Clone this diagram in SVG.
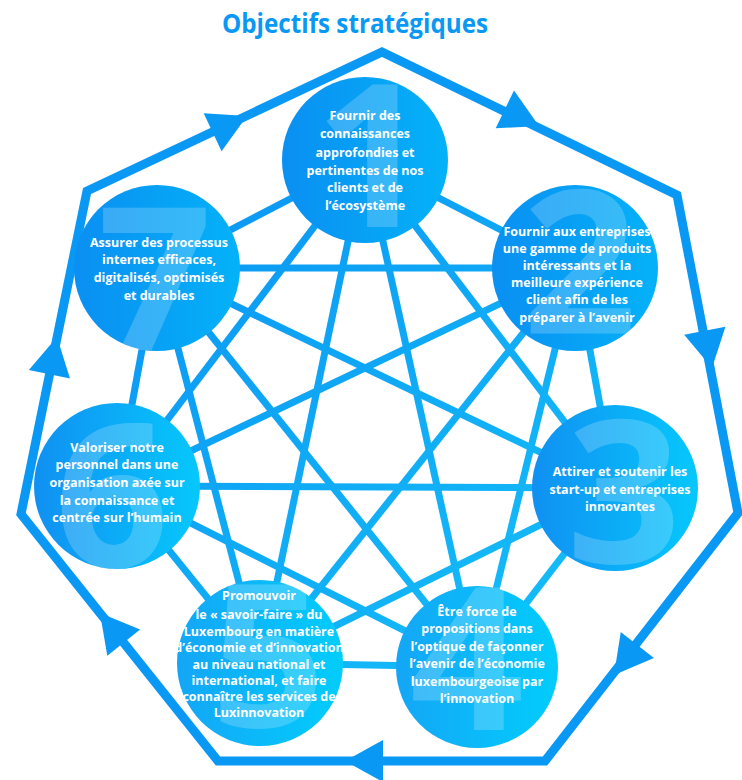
<svg xmlns="http://www.w3.org/2000/svg" width="742" height="780" viewBox="0 0 742 780">
<defs>
<linearGradient id="lineGrad" gradientUnits="userSpaceOnUse" x1="120" y1="160" x2="620" y2="700">
<stop offset="0" stop-color="#0a92f3"/><stop offset="1" stop-color="#16c3f8"/>
</linearGradient>
<linearGradient id="gTop" x1="0" y1="0" x2="1" y2="0">
<stop offset="0" stop-color="#0a8ff2"/><stop offset="1" stop-color="#04b2f8"/>
</linearGradient>
<linearGradient id="gMid" x1="0" y1="0" x2="1" y2="0">
<stop offset="0" stop-color="#1090f2"/><stop offset="1" stop-color="#06c8fc"/>
</linearGradient>
<linearGradient id="gLow" x1="0" y1="0" x2="1" y2="0">
<stop offset="0" stop-color="#14a6f6"/><stop offset="1" stop-color="#02cdfc"/>
</linearGradient>
<path id="arrow" d="M0,0 L-38,-21 L-38,21 Z"/>
</defs>
<style>
.title{font-family:"Open Sans","Liberation Sans",sans-serif;font-weight:700;font-size:26px;fill:#0a98f5;}
.link{stroke:url(#lineGrad);stroke-width:7;fill:none;}
.cycle{stroke:#0a98f5;stroke-width:9;fill:none;stroke-linejoin:miter;}
.ah{fill:#0a98f5;}
.num{font-family:"Open Sans","Liberation Sans",sans-serif;font-weight:700;font-size:200px;fill:#ffffff;fill-opacity:0.2;text-anchor:middle;}
.lbl{font-family:"Open Sans","Liberation Sans",sans-serif;font-weight:700;font-size:12.5px;fill:#ffffff;text-anchor:middle;}
</style>
<rect width="742" height="780" fill="#ffffff"/>
<text class="title" x="355" y="33" text-anchor="middle" textLength="266" lengthAdjust="spacingAndGlyphs">Objectifs stratégiques</text>
<g id="cycle">
<polygon class="cycle" points="382,52 677,195 738,513 545,761 218,761 21,514 87,191"/>
<use href="#arrow" class="ah" transform="translate(247,116) rotate(-25.2)"/>
<use href="#arrow" class="ah" transform="translate(539,126) rotate(25.9)"/>
<use href="#arrow" class="ah" transform="translate(712,368) rotate(79.1)"/>
<use href="#arrow" class="ah" transform="translate(614,675) rotate(127.9)"/>
<use href="#arrow" class="ah" transform="translate(345,761) rotate(180)"/>
<use href="#arrow" class="ah" transform="translate(100,613) rotate(231.4)"/>
<use href="#arrow" class="ah" transform="translate(57,337) rotate(-78.5)"/>
</g>
<g id="connectors">
<line class="link" x1="365" y1="160" x2="575" y2="268"/>
<line class="link" x1="365" y1="160" x2="615" y2="488"/>
<line class="link" x1="365" y1="160" x2="477" y2="667"/>
<line class="link" x1="365" y1="160" x2="260" y2="663"/>
<line class="link" x1="365" y1="160" x2="117" y2="486"/>
<line class="link" x1="365" y1="160" x2="157" y2="268"/>
<line class="link" x1="575" y1="268" x2="615" y2="488"/>
<line class="link" x1="575" y1="268" x2="477" y2="667"/>
<line class="link" x1="575" y1="268" x2="260" y2="663"/>
<line class="link" x1="575" y1="268" x2="117" y2="486"/>
<line class="link" x1="575" y1="268" x2="157" y2="268"/>
<line class="link" x1="615" y1="488" x2="477" y2="667"/>
<line class="link" x1="615" y1="488" x2="260" y2="663"/>
<line class="link" x1="615" y1="488" x2="117" y2="486"/>
<line class="link" x1="615" y1="488" x2="157" y2="268"/>
<line class="link" x1="477" y1="667" x2="260" y2="663"/>
<line class="link" x1="477" y1="667" x2="117" y2="486"/>
<line class="link" x1="477" y1="667" x2="157" y2="268"/>
<line class="link" x1="260" y1="663" x2="117" y2="486"/>
<line class="link" x1="260" y1="663" x2="157" y2="268"/>
<line class="link" x1="117" y1="486" x2="157" y2="268"/>
</g>
<g id="node1">
<circle cx="365" cy="160" r="83" fill="url(#gTop)"/>
<text class="num" x="372" y="227">1</text>
<text class="lbl" x="365" y="120">Fournir des</text>
<text class="lbl" x="365" y="138">connaissances</text>
<text class="lbl" x="365" y="157">approfondies et</text>
<text class="lbl" x="365" y="175">pertinentes de nos</text>
<text class="lbl" x="365" y="192">clients et de</text>
<text class="lbl" x="365" y="210">l’écosystème</text>
</g>
<g id="node2">
<circle cx="575" cy="268" r="83" fill="url(#gTop)"/>
<text class="num" x="580" y="333">2</text>
<text class="lbl" x="577" y="236">Fournir aux entreprises</text>
<text class="lbl" x="577" y="253">une gamme de produits</text>
<text class="lbl" x="577" y="270">intéressants et la</text>
<text class="lbl" x="577" y="287">meilleure expérience</text>
<text class="lbl" x="577" y="304">client afin de les</text>
<text class="lbl" x="577" y="322">préparer à l’avenir</text>
</g>
<g id="node3">
<circle cx="615" cy="488" r="83" fill="url(#gMid)"/>
<text class="num" x="624" y="563">3</text>
<text class="lbl" x="620" y="476">Attirer et soutenir les</text>
<text class="lbl" x="620" y="494">start-up et entreprises</text>
<text class="lbl" x="620" y="511">innovantes</text>
</g>
<g id="node4">
<circle cx="477" cy="667" r="81" fill="url(#gLow)"/>
<text class="num" x="467" y="730">4</text>
<text class="lbl" x="477" y="616">Être force de</text>
<text class="lbl" x="477" y="633">propositions dans</text>
<text class="lbl" x="477" y="651">l’optique de façonner</text>
<text class="lbl" x="477" y="668">l’avenir de l’économie</text>
<text class="lbl" x="477" y="686">luxembourgeoise par</text>
<text class="lbl" x="477" y="703">l’innovation</text>
</g>
<g id="node5">
<circle cx="260" cy="663" r="83" fill="url(#gLow)"/>
<text class="num" x="268" y="727">5</text>
<text class="lbl" x="259" y="600">Promouvoir</text>
<text class="lbl" x="259" y="619">le « savoir-faire » du</text>
<text class="lbl" x="259" y="636">Luxembourg en matière</text>
<text class="lbl" x="259" y="652">d’économie et d’innovation</text>
<text class="lbl" x="259" y="669">au niveau national et</text>
<text class="lbl" x="259" y="685">international, et faire</text>
<text class="lbl" x="259" y="701">connaître les services de</text>
<text class="lbl" x="259" y="717">Luxinnovation</text>
</g>
<g id="node6">
<circle cx="117" cy="486" r="83" fill="url(#gMid)"/>
<text class="num" x="112" y="567">6</text>
<text class="lbl" x="117" y="452">Valoriser notre</text>
<text class="lbl" x="117" y="469">personnel dans une</text>
<text class="lbl" x="117" y="487">organisation axée sur</text>
<text class="lbl" x="117" y="505">la connaissance et</text>
<text class="lbl" x="117" y="522">centrée sur l’humain</text>
</g>
<g id="node7">
<circle cx="157" cy="268" r="83" fill="url(#gTop)"/>
<text class="num" x="155" y="350">7</text>
<text class="lbl" x="159" y="247">Assurer des processus</text>
<text class="lbl" x="159" y="264">internes efficaces,</text>
<text class="lbl" x="159" y="282">digitalisés, optimisés</text>
<text class="lbl" x="159" y="300">et durables</text>
</g>
</svg>
